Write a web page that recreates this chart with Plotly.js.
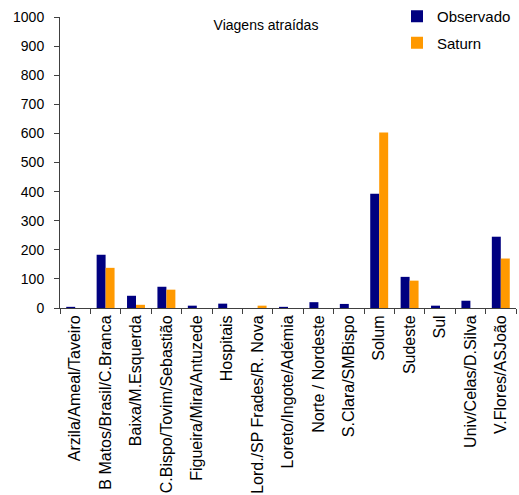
<!DOCTYPE html>
<html>
<head>
<meta charset="utf-8">
<script src="https://cdn.plot.ly/plotly-3.0.1.min.js"></script>
<style>html,body{margin:0;padding:0;background:#fff;}#chart{width:519px;height:495px;}</style>
</head>
<body>
<div id="chart"></div>
<script>
const categories = ["Arzila/Ameal/Taveiro","B Matos/Brasil/C.Branca","Baixa/M.Esquerda","C.Bispo/Tovim/Sebastião","Figueira/Mira/Antuzede","Hospitais","Lord./SP Frades/R. Nova","Loreto/Ingote/Adémia","Norte / Nordeste","S.Clara/SMBispo","Solum","Sudeste","Sul","Univ/Celas/D.Silva","V.Flores/ASJoão"];
const observado = [4, 183, 42, 73, 8, 15, 0, 4, 20, 14, 393, 107, 8, 25, 245];
const saturn = [0, 138, 11, 63, 0, 0, 8, 0, 0, 0, 603, 94, 0, 0, 170];
const yTicks = [0,100,200,300,400,500,600,700,800,900,1000];

const fam = "'Liberation Sans', Arial, sans-serif";
const xTickFont = {family: fam, size: 16, color: "#000"};
const yTickFont = {family: fam, size: 14, color: "#000"};
const titleFont = {family: fam, size: 14, color: "#000"};
const legendFont = {family: fam, size: 15, color: "#000"};
const data = [
  {type: "bar", name: "Observado", x: categories, y: observado, marker: {color: "#000080"}, legendgroup: "a"},
  {type: "bar", name: "Saturn", x: categories, y: saturn, marker: {color: "#FF9900"}, legendgroup: "b"}
];
const layout = {
  width: 519, height: 495,
  margin: {l: 60, r: 3, t: 17, b: 187, pad: 0, autoexpand: false},
  paper_bgcolor: "#fff", plot_bgcolor: "#fff",
  font: yTickFont,
  barmode: "group", bargap: 0.41, bargroupgap: 0,
  title: {text: "Viagens atraídas", x: 266/519, xanchor: "center", xref: "container", y: 1 - 25/495, yanchor: "middle", yref: "container", font: titleFont},
  xaxis: {
    type: "category", tickangle: -90, tickson: "boundaries", ticks: "outside", ticklen: 5, tickcolor: "#404040",
    showline: true, linecolor: "#404040", linewidth: 1, showgrid: false, zeroline: false,
    tickfont: xTickFont, automargin: false
  },
  yaxis: {
    range: [0, 1000], tickvals: yTicks, ticktext: yTicks.map(String), ticks: "outside", ticklen: 5, tickcolor: "#404040",
    showline: true, linecolor: "#404040", linewidth: 1, showgrid: false, zeroline: false,
    tickfont: yTickFont, automargin: false, ticklabelstandoff: 7
  },
  showlegend: true,
  legend: {x: 397/519, xanchor: "left", xref: "container", y: 1, yanchor: "top", yref: "container", font: legendFont, bgcolor: "rgba(0,0,0,0)", traceorder: "grouped", tracegroupgap: 4, itemwidth: 30}
};
Plotly.newPlot("chart", data, layout, {displayModeBar: false, staticPlot: true});
</script>
</body>
</html>
